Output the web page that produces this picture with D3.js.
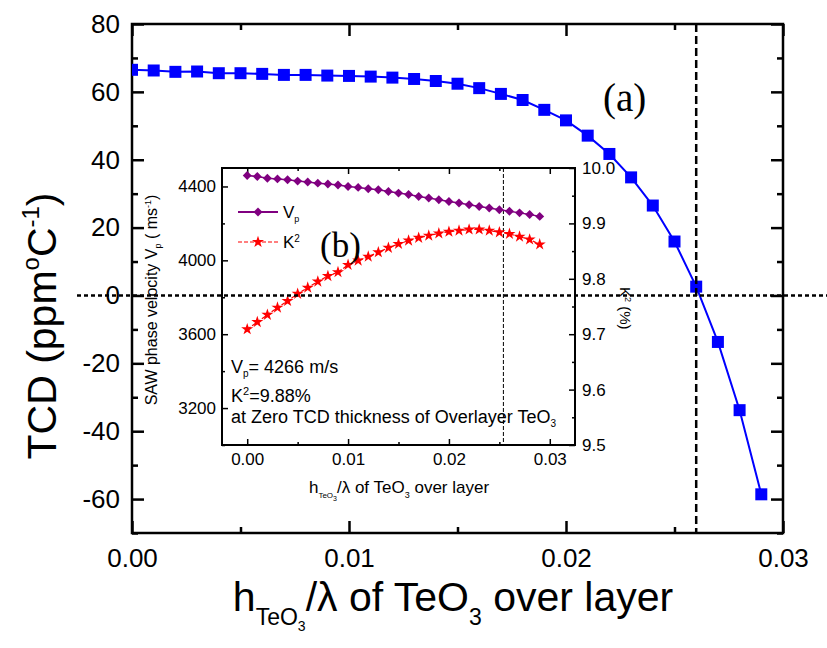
<!DOCTYPE html>
<html>
<head>
<meta charset="utf-8">
<script src="https://cdn.jsdelivr.net/npm/d3@7"></script>
<style>
  body { margin: 0; background: #fff; }
  svg { display: block; font-family: "Liberation Sans", Arial, sans-serif; }
</style>
</head>
<body>
<div id="wrapper"></div>
<script>
// 1. Data

const thickness = [0, 0.001, 0.002, 0.003, 0.004, 0.005, 0.006, 0.007, 0.008, 0.009,
  0.010, 0.011, 0.012, 0.013, 0.014, 0.015, 0.016, 0.017, 0.018, 0.019,
  0.020, 0.021, 0.022, 0.023, 0.024, 0.025, 0.026, 0.027, 0.028, 0.029];
const tcdValues = [66.5, 66.3, 65.9, 66.0, 65.5, 65.5, 65.3, 65.0, 65.0, 64.8,
  64.7, 64.5, 64.2, 63.8, 63.2, 62.4, 61.1, 59.4, 57.6, 54.7,
  51.6, 47.1, 41.7, 34.8, 26.5, 15.9, 2.6, -13.7, -33.8, -58.6];
const vpValues = [4459, 4454, 4445, 4441, 4436, 4429, 4424, 4418, 4413, 4408,
  4400, 4395, 4388, 4382, 4373, 4364, 4357, 4346, 4338, 4328,
  4319, 4311, 4301, 4292, 4283, 4274, 4266, 4257, 4248, 4238];
const k2Values = [9.709, 9.722, 9.735, 9.748, 9.760, 9.773, 9.784, 9.795, 9.805, 9.812,
  9.825, 9.833, 9.840, 9.848, 9.856, 9.863, 9.869, 9.874, 9.878, 9.882,
  9.885, 9.887, 9.889, 9.889, 9.887, 9.884, 9.881, 9.876, 9.871, 9.862];

const mainXTicks = [0, 0.01, 0.02, 0.03];
const mainXMinor = [0.005, 0.015, 0.025];
const mainYTicks = [-60, -40, -20, 0, 20, 40, 60, 80];
const mainYMinor = [-70, -50, -30, -10, 10, 30, 50, 70];
const insetXTicks = [0, 0.01, 0.02, 0.03];
const insetXMinor = [0.005, 0.015, 0.025];
const insetVpTicks = [3200, 3600, 4000, 4400];
const insetVpMinor = [3000, 3400, 3800, 4200];
const insetK2Ticks = [9.5, 9.6, 9.7, 9.8, 9.9, 10.0];
const insetK2Minor = [9.55, 9.65, 9.75, 9.85, 9.95];

const zeroTcdThickness = 0.026;
const insetMarkThickness = 0.0254;

function drawChart() {

  // 2. Dimensions

  const width = 827, height = 648;
  const main = { left: 132, right: 783, top: 24, bottom: 533 };
  const inset = { left: 222, right: 575, top: 168, bottom: 445 };

  const svg = d3.select("#wrapper")
    .append("svg")
      .attr("width", width)
      .attr("height", height);

  // 3. Scales

  const x = d3.scaleLinear().domain([0, 0.03]).range([main.left, main.right]);
  const y = d3.scaleLinear().domain([-70, 80]).range([main.bottom, main.top]);

  const ix = d3.scaleLinear().domain([-0.0025, 0.0325]).range([inset.left, inset.right]);
  const iyVp = d3.scaleLinear().domain([3000, 4500]).range([inset.bottom, inset.top]);
  const iyK2 = d3.scaleLinear().domain([9.5, 10.0]).range([inset.bottom, inset.top]);

  // axis helper: ticks point inward, domain path removed
  const addAxis = (g, axisFn, scale, values, size, fmt, pad, fontSize, strokeW) => {
    g.call(axisFn(scale)
        .tickValues(values)
        .tickSizeInner(-size)
        .tickSizeOuter(0)
        .tickPadding(pad)
        .tickFormat(fmt || (() => "")));
    g.select(".domain").remove();
    g.selectAll("line").attr("stroke", "#000").attr("stroke-width", strokeW);
    g.selectAll("text")
      .attr("fill", "#000")
      .style("font-size", fontSize + "px")
      .style("font-family", "'Liberation Sans', Arial, sans-serif");
    return g;
  };

  // 4. Main chart

  const mainG = svg.append("g");
  const at = (tx, ty) => `translate(${tx},${ty})`;

  addAxis(mainG.append("g").attr("transform", at(0, main.bottom)), d3.axisBottom, x,
    mainXTicks, 12, d3.format(".2f"), 16, 26, 2.5);
  addAxis(mainG.append("g").attr("transform", at(0, main.bottom)), d3.axisBottom, x,
    mainXMinor, 6, null, 0, 0, 2.5);
  addAxis(mainG.append("g").attr("transform", at(0, main.top)), d3.axisTop, x,
    mainXTicks, 12, null, 0, 0, 2.5);
  addAxis(mainG.append("g").attr("transform", at(0, main.top)), d3.axisTop, x,
    mainXMinor, 6, null, 0, 0, 2.5);
  addAxis(mainG.append("g").attr("transform", at(main.left, 0)), d3.axisLeft, y,
    mainYTicks, 12, d => d3.format("d")(d).replace("−", "-"), 12, 26, 2.5);
  addAxis(mainG.append("g").attr("transform", at(main.left, 0)), d3.axisLeft, y,
    mainYMinor, 6, null, 0, 0, 2.5);
  addAxis(mainG.append("g").attr("transform", at(main.right, 0)), d3.axisRight, y,
    mainYTicks, 12, null, 0, 0, 2.5);
  addAxis(mainG.append("g").attr("transform", at(main.right, 0)), d3.axisRight, y,
    mainYMinor, 6, null, 0, 0, 2.5);

  mainG.append("rect")
      .attr("x", main.left)
      .attr("y", main.top)
      .attr("width", main.right - main.left)
      .attr("height", main.bottom - main.top)
      .attr("fill", "none")
      .attr("stroke", "#000")
      .attr("stroke-width", 2.5);

  const tcdData = thickness.map((t, i) => ({ t, v: tcdValues[i] }));

  svg.append("clipPath").attr("id", "mainClip")
    .append("rect")
      .attr("x", main.left)
      .attr("y", main.top)
      .attr("width", main.right - main.left)
      .attr("height", main.bottom - main.top);

  const plot = mainG.append("g").attr("clip-path", "url(#mainClip)");

  plot.append("path")
      .datum(tcdData)
      .attr("fill", "none")
      .attr("stroke", "#0000ff")
      .attr("stroke-width", 2)
      .attr("d", d3.line().x(d => x(d.t)).y(d => y(d.v)));

  plot.selectAll(".sq")
    .data(tcdData)
    .join("path")
      .attr("class", "sq")
      .attr("transform", d => at(x(d.t), y(d.v)))
      .attr("d", d3.symbol(d3.symbolSquare, 144))
      .attr("fill", "#0000ff");

  // zero-TCD vertical marker
  mainG.append("line")
      .attr("x1", x(zeroTcdThickness))
      .attr("x2", x(zeroTcdThickness))
      .attr("y1", main.top)
      .attr("y2", main.bottom)
      .attr("stroke", "#000")
      .attr("stroke-width", 2.5)
      .attr("stroke-dasharray", "8,4");

  // (a)
  svg.append("text")
      .attr("x", 603)
      .attr("y", 111)
      .style("font-family", "'Liberation Serif', 'Times New Roman', serif")
      .style("font-size", "39px")
      .text("(a)");

  // axis titles
  const yTitle = svg.append("text")
      .attr("transform", `translate(56,326) rotate(-90)`)
      .attr("text-anchor", "middle")
      .style("font-size", "41px");
  yTitle.append("tspan").text("TCD (ppm");
  yTitle.append("tspan").attr("dy", -17).style("font-size", "24px").text("o");
  yTitle.append("tspan").attr("dy", 17).text("C");
  yTitle.append("tspan").attr("dy", -17).style("font-size", "24px").text("-1");
  yTitle.append("tspan").attr("dy", 17).text(")");

  const xTitle = svg.append("text")
      .attr("x", 453)
      .attr("y", 611)
      .attr("text-anchor", "middle")
      .style("font-size", "41px");
  xTitle.append("tspan").text("h");
  xTitle.append("tspan").attr("dy", 14).style("font-size", "23px").text("TeO");
  xTitle.append("tspan").attr("dy", 6).style("font-size", "14px").text("3");
  xTitle.append("tspan").attr("dy", -20).text("/λ of TeO");
  xTitle.append("tspan").attr("dy", 14).style("font-size", "23px").text("3");
  xTitle.append("tspan").attr("dy", -14).text(" over layer");

  // 5. Inset

  const insetG = svg.append("g");

  insetG.append("rect")
      .attr("x", inset.left)
      .attr("y", inset.top)
      .attr("width", inset.right - inset.left)
      .attr("height", inset.bottom - inset.top)
      .attr("fill", "#fff");

  addAxis(insetG.append("g").attr("transform", at(0, inset.bottom)), d3.axisBottom, ix,
    insetXTicks, 6, d3.format(".2f"), 8, 17, 1.5);
  addAxis(insetG.append("g").attr("transform", at(0, inset.bottom)), d3.axisBottom, ix,
    insetXMinor, 3, null, 0, 0, 1.5);
  addAxis(insetG.append("g").attr("transform", at(0, inset.top)), d3.axisTop, ix,
    insetXTicks, 6, null, 0, 0, 1.5);
  addAxis(insetG.append("g").attr("transform", at(0, inset.top)), d3.axisTop, ix,
    insetXMinor, 3, null, 0, 0, 1.5);
  addAxis(insetG.append("g").attr("transform", at(inset.left, 0)), d3.axisLeft, iyVp,
    insetVpTicks, 6, d3.format("d"), 6, 17, 1.5);
  addAxis(insetG.append("g").attr("transform", at(inset.left, 0)), d3.axisLeft, iyVp,
    insetVpMinor, 3, null, 0, 0, 1.5);
  addAxis(insetG.append("g").attr("transform", at(inset.right, 0)), d3.axisRight, iyK2,
    insetK2Ticks, 6, d3.format(".1f"), 7, 17, 1.5);
  addAxis(insetG.append("g").attr("transform", at(inset.right, 0)), d3.axisRight, iyK2,
    insetK2Minor, 3, null, 0, 0, 1.5);

  insetG.append("rect")
      .attr("x", inset.left)
      .attr("y", inset.top)
      .attr("width", inset.right - inset.left)
      .attr("height", inset.bottom - inset.top)
      .attr("fill", "none")
      .attr("stroke", "#000")
      .attr("stroke-width", 2);

  insetG.append("line")
      .attr("x1", ix(insetMarkThickness))
      .attr("x2", ix(insetMarkThickness))
      .attr("y1", inset.top)
      .attr("y2", inset.bottom)
      .attr("stroke", "#000")
      .attr("stroke-width", 1)
      .attr("stroke-dasharray", "4,2");

  const vpData = thickness.map((t, i) => ({ t, v: vpValues[i] }));
  const k2Data = thickness.map((t, i) => ({ t, v: k2Values[i] }));

  const diamond = d3.symbol(d3.symbolSquare, 40);
  const star = d3.symbol(d3.symbolStar, 45);

  insetG.append("path")
      .datum(vpData)
      .attr("fill", "none")
      .attr("stroke", "#800080")
      .attr("stroke-width", 1.5)
      .attr("d", d3.line().x(d => ix(d.t)).y(d => iyVp(d.v)));
  insetG.selectAll(".dia")
    .data(vpData)
    .join("path")
      .attr("class", "dia")
      .attr("transform", d => `${at(ix(d.t), iyVp(d.v))} rotate(45)`)
      .attr("d", diamond)
      .attr("fill", "#800080");

  insetG.append("path")
      .datum(k2Data)
      .attr("fill", "none")
      .attr("stroke", "#ff0000")
      .attr("stroke-width", 1.2)
      .attr("stroke-dasharray", "4,2")
      .attr("d", d3.line().x(d => ix(d.t)).y(d => iyK2(d.v)));
  insetG.selectAll(".star")
    .data(k2Data)
    .join("path")
      .attr("class", "star")
      .attr("transform", d => at(ix(d.t), iyK2(d.v)))
      .attr("d", star)
      .attr("fill", "#ff0000");

  // legend
  const legend = insetG.append("g");
  legend.append("line")
      .attr("x1", 238).attr("x2", 278).attr("y1", 212).attr("y2", 212)
      .attr("stroke", "#800080").attr("stroke-width", 2);
  legend.append("path")
      .attr("transform", `${at(258, 212)} rotate(45)`)
      .attr("d", diamond)
      .attr("fill", "#800080");
  const vpLabel = legend.append("text").attr("x", 283).attr("y", 218).style("font-size", "17px");
  vpLabel.append("tspan").text("V");
  vpLabel.append("tspan").attr("dy", 4).style("font-size", "9px").text("p");

  legend.append("line")
      .attr("x1", 238).attr("x2", 278).attr("y1", 242).attr("y2", 242)
      .attr("stroke", "#ff0000").attr("stroke-width", 1.2).attr("stroke-dasharray", "4,2");
  legend.append("path")
      .attr("transform", at(258, 242))
      .attr("d", star)
      .attr("fill", "#ff0000");
  const k2Label = legend.append("text").attr("x", 283).attr("y", 248).style("font-size", "17px");
  k2Label.append("tspan").text("K");
  k2Label.append("tspan").attr("dy", -6).style("font-size", "10px").text("2");

  // (b)
  insetG.append("text")
      .attr("x", 320)
      .attr("y", 257)
      .style("font-family", "'Liberation Serif', 'Times New Roman', serif")
      .style("font-size", "35px")
      .text("(b)");

  // notes
  const note1 = insetG.append("text").attr("x", 231).attr("y", 373).style("font-size", "18px");
  note1.append("tspan").text("V");
  note1.append("tspan").attr("dy", 4).style("font-size", "10px").text("p");
  note1.append("tspan").attr("dy", -4).text("= 4266 m/s");

  const note2 = insetG.append("text").attr("x", 231).attr("y", 402).style("font-size", "18px");
  note2.append("tspan").text("K");
  note2.append("tspan").attr("dy", -7).style("font-size", "11px").text("2");
  note2.append("tspan").attr("dy", 7).text("=9.88%");

  const note3 = insetG.append("text").attr("x", 231).attr("y", 423).style("font-size", "18px");
  note3.append("tspan").text("at Zero TCD thickness of Overlayer TeO");
  note3.append("tspan").attr("dy", 4).style("font-size", "10px").text("3");

  // inset axis titles
  const ivTitle = insetG.append("text")
      .attr("transform", "translate(157,300) rotate(-90)")
      .attr("text-anchor", "middle")
      .style("font-size", "16px");
  ivTitle.append("tspan").text("SAW phase velocity V");
  ivTitle.append("tspan").attr("dy", 4).style("font-size", "9px").text("p");
  ivTitle.append("tspan").attr("dy", -4).text(" ( ms");
  ivTitle.append("tspan").attr("dy", -6).style("font-size", "9px").text("-1");
  ivTitle.append("tspan").attr("dy", 6).text(")");

  const ikTitle = insetG.append("text")
      .attr("transform", "translate(620,287) rotate(90)")
      .style("font-size", "15px");
  ikTitle.append("tspan").text("K");
  ikTitle.append("tspan").attr("dy", -5).style("font-size", "9px").text("2");
  ikTitle.append("tspan").attr("dy", 5).text("  (%)");

  const ixTitle = insetG.append("text")
      .attr("x", 399)
      .attr("y", 493)
      .attr("text-anchor", "middle")
      .style("font-size", "17px");
  ixTitle.append("tspan").text("h");
  ixTitle.append("tspan").attr("dy", 5).style("font-size", "8px").text("TeO");
  ixTitle.append("tspan").attr("dy", 3).style("font-size", "7px").text("3");
  ixTitle.append("tspan").attr("dy", -8).text("/λ of TeO");
  ixTitle.append("tspan").attr("dy", 5).style("font-size", "9px").text("3");
  ixTitle.append("tspan").attr("dy", -5).text(" over layer");

  // zero TCD horizontal marker, drawn on top
  svg.append("line")
      .attr("x1", 77)
      .attr("x2", width)
      .attr("y1", y(0))
      .attr("y2", y(0))
      .attr("stroke", "#000")
      .attr("stroke-width", 2.5)
      .attr("stroke-dasharray", "4,3");
}
drawChart();
</script>
</body>
</html>
